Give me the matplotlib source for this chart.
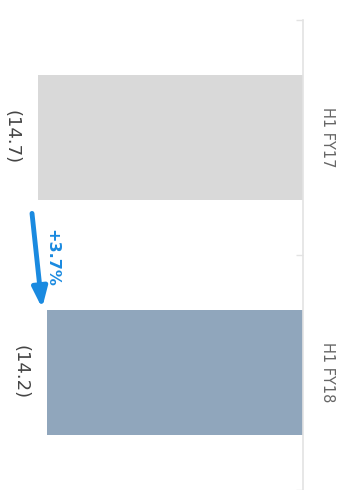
import matplotlib
matplotlib.use("Agg")
import matplotlib.pyplot as plt
import numpy as np

categories = ["H1 FY17", "H1 FY18"]
values = [-14.7, -14.2]
value_labels = ["(14.7)", "(14.2)"]
bar_colors = ["#d9d9d9", "#90a6bc"]
change_label = "+3.7%"

plt.rcParams['font.family'] = ['DejaVu Sans']

fig = plt.figure(figsize=(3.39, 4.90), dpi=100)
W, H = 339, 490
ax = fig.add_axes([0, 0, 303 / W, 1 - 20 / H])

y = np.arange(len(categories))
ax.barh(y, values, height=0.53, color=bar_colors, zorder=2)

px_per_unit = 18.03
ax.set_xlim(-303 / px_per_unit, 0)
ax.set_ylim((490 - 141.5) / 243, -0.5)

for s in ["left", "top", "bottom"]:
    ax.spines[s].set_visible(False)
ax.spines["right"].set_color("#e3e3e3")
ax.spines["right"].set_linewidth(1.2)
ax.set_xticks([])

ax.yaxis.tick_right()
ax.set_yticks(y)
ax.set_yticklabels(categories, rotation=-90, va="center", ha="left",
                   fontsize=10.5, color="#666666")
ax.tick_params(axis="y", which="major", length=0, pad=12)
ax.set_yticks([-0.5, 0.5, 1.5], minor=True)
ax.tick_params(axis="y", which="minor", length=5, direction="in",
               color="#e3e3e3", width=1)

for yi, v, lab in zip(y, values, value_labels):
    ax.annotate(lab, xy=(v, yi), xytext=(-19, 0), textcoords="offset points",
                rotation=-90, ha="center", va="center", fontsize=13,
                color="#444444", annotation_clip=False)

blue = "#1a8ae0"
ax.annotate("", xy=(values[1] - 0.27, 0.726), xytext=(values[0] - 0.33, 0.323),
            arrowprops=dict(arrowstyle="-|>,head_length=1.2,head_width=0.45",
                            color=blue, lw=3.5, shrinkA=0, shrinkB=0),
            annotation_clip=False)
ax.text(-13.92, 0.512, change_label, rotation=-90, ha="center", va="center",
        fontsize=11.5, fontweight="bold", color=blue)

fig.savefig("out.png", dpi=100)
